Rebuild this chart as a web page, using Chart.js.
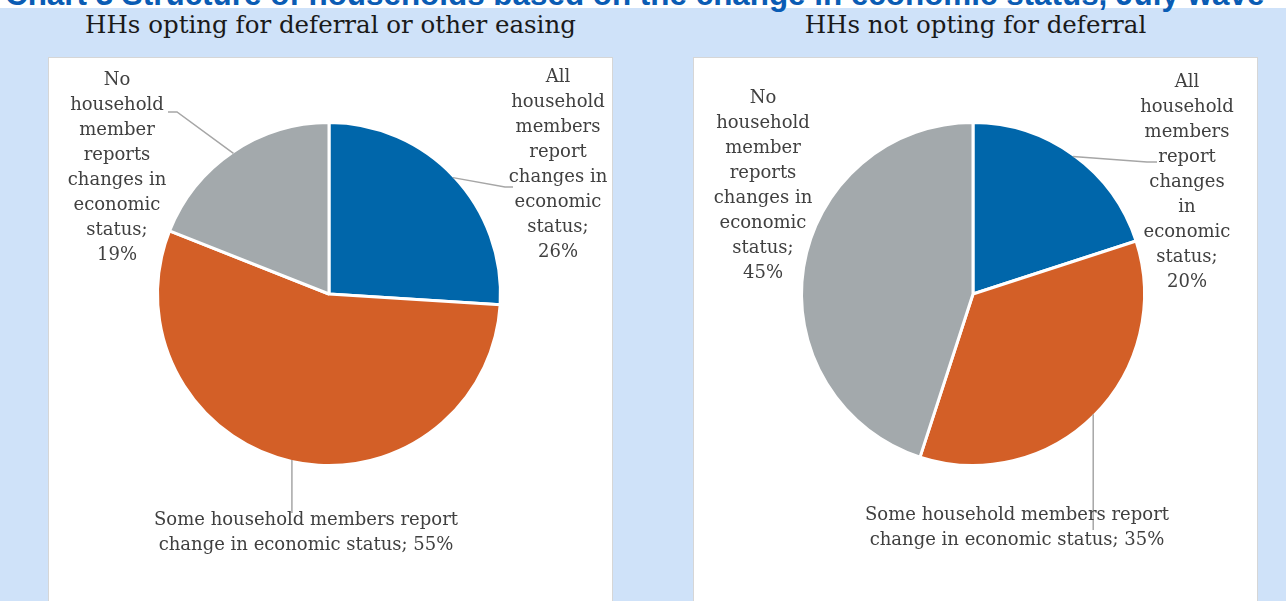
<!DOCTYPE html>
<html>
<head>
<meta charset="utf-8">
<script src="https://cdn.jsdelivr.net/npm/chart.js@4.4.1/dist/chart.umd.min.js"></script>
<style>
  body { margin: 0; width: 1286px; height: 601px; background: #cfe2f9; overflow: hidden; position: relative; }
  #strip { position: absolute; left: 0; top: 0; width: 1286px; height: 8px; background: #ffffff; }
  #title { position: absolute; left: 5px; top: -21px; font: bold 31.4px "Liberation Sans", Arial, sans-serif; line-height: 31px; color: #0a5cb4; white-space: nowrap; }
  .sub { position: absolute; top: 12px; width: 565px; text-align: center; font: 24.5px "DejaVu Serif", serif; line-height: 25px; color: #1a1a1a; white-space: nowrap; }
  .panel { position: absolute; top: 57px; width: 565px; height: 546px; background: #fff; border: 1px solid #d6d6d6; box-sizing: border-box; }
  canvas { position: absolute; top: 57px; }
</style>
</head>
<body>
<div id="strip"></div>
<div id="title">Chart 3 Structure of households based on the change in economic status, July wave</div>
<div class="sub" style="left:48px">HHs opting for deferral or other easing</div>
<div class="sub" style="left:693px">HHs not opting for deferral</div>
<div class="panel" style="left:48px"></div>
<div class="panel" style="left:693px"></div>
<canvas id="pieDeferral" width="565" height="543" style="left:48px"></canvas>
<canvas id="pieNoDeferral" width="565" height="543" style="left:693px"></canvas>
<script>
// slice categories and shares (%)
var categories = [
    'All household members report changes in economic status',
    'Some household members report change in economic status',
    'No household member reports changes in economic status'
];
var deferralShares = [26, 55, 19];
var noDeferralShares = [20, 35, 45];
var sliceColors = ['#0066aa', '#d35f27', '#a3a9ac'];

// greedy word wrap against a max line width
function wrapText(ctx, text, maxWidth) {
    var words = text.split(' ');
    var lines = [];
    var line = words[0];
    for (var i = 1; i < words.length; i++) {
        var test = line + ' ' + words[i];
        if (ctx.measureText(test).width > maxWidth) {
            lines.push(line);
            line = words[i];
        } else {
            line = test;
        }
    }
    lines.push(line);
    return lines;
}

// category labels with leader lines from the middle of each slice edge
var sliceLabels = {
    id: 'sliceLabels',
    afterDatasetsDraw: function(chart, args, opts) {
        var ctx = chart.ctx;
        var arcs = chart.getDatasetMeta(0).data;
        var values = chart.data.datasets[0].data;
        ctx.save();
        ctx.font = '18px "DejaVu Serif"';
        ctx.textAlign = 'center';
        arcs.forEach(function(arc, i) {
            var p = arc.getProps(['x', 'y', 'startAngle', 'endAngle', 'outerRadius'], true);
            var mid = (p.startAngle + p.endAngle) / 2;
            var sx = p.x + Math.cos(mid) * (p.outerRadius - 1.5);
            var sy = p.y + Math.sin(mid) * (p.outerRadius - 1.5);
            var spot = opts.spots[i];
            if (spot.leader) {
                ctx.strokeStyle = '#a6a6a6';
                ctx.lineWidth = 1.5;
                ctx.beginPath();
                ctx.moveTo(sx, sy);
                spot.leader.forEach(function(pt) {
                    ctx.lineTo(pt[0] === null ? sx : p.x + pt[0], p.y + pt[1]);
                });
                ctx.stroke();
            }
            var lines = wrapText(ctx, chart.data.labels[i] + '; ' + values[i] + '%', spot.width);
            ctx.fillStyle = '#404040';
            lines.forEach(function(ln, k) {
                ctx.fillText(ln, p.x + spot.x, p.y + spot.y + k * 25);
            });
        });
        ctx.restore();
    }
};

function makePie(id, shares, padding, spots) {
    return new Chart(document.getElementById(id).getContext('2d'), {
        type: 'pie',
        data: {
            labels: categories,
            datasets: [{
                data: shares,
                backgroundColor: sliceColors,
                borderColor: '#ffffff',
                borderWidth: 3
            }]
        },
        options: {
            responsive: false,
            animation: false,
            layout: { padding: padding },
            plugins: {
                legend: { display: false },
                tooltip: { enabled: false },
                sliceLabels: { spots: spots }
            }
        },
        plugins: [sliceLabels]
    });
}

var pieDeferral = makePie('pieDeferral', deferralShares,
    { left: 108, right: 111, top: 64, bottom: 133 },
    [
        { x: 229, y: -212, width: 102, leader: [[176, -107], [184, -107]] },
        { x: -23, y: 231, width: 320, leader: [[null, 219]] },
        { x: -212, y: -209, width: 102, leader: [[-152, -182], [-161, -182]] }
    ]);

var pieNoDeferral = makePie('pieNoDeferral', noDeferralShares,
    { left: 107, right: 112, top: 64, bottom: 133 },
    [
        { x: 214, y: -207, width: 95, leader: [[174, -132], [184, -132]] },
        { x: 44, y: 226, width: 320, leader: [[null, 236]] },
        { x: -210, y: -191, width: 102, leader: null }
    ]);
</script>
</body>
</html>
